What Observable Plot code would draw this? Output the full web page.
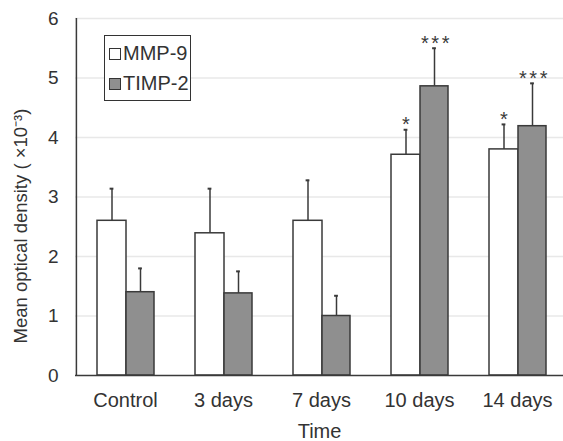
<!DOCTYPE html>
<html>
<head>
<meta charset="utf-8">
<script src="https://cdn.jsdelivr.net/npm/d3@7"></script>
<script src="https://cdn.jsdelivr.net/npm/@observablehq/plot@0.6"></script>
<style>
  html, body { margin: 0; padding: 0; background: #fff; }
  #wrap { position: relative; width: 563px; height: 441px; font-family: "Liberation Sans", Arial, sans-serif; }
  #legend { position: absolute; left: 104px; top: 35px; width: 85px; height: 64px; border: 1.5px solid #333; background: #fff; font-size: 20px; color: #333; }
  #legend .row { position: absolute; left: 4px; display: flex; align-items: center; }
  #legend .sw { width: 10px; height: 10px; border: 1.3px solid #333; margin-right: 2px; }
</style>
</head>
<body>
<div id="wrap">
  <div id="chart"></div>
  <div id="legend">
    <div class="row" style="top:6px"><div class="sw" style="background:#fff"></div><span>MMP-9</span></div>
    <div class="row" style="top:36px"><div class="sw" style="background:#8f8f8f"></div><span>TIMP-2</span></div>
  </div>
</div>
<script>
const categories = ["Control", "3 days", "7 days", "10 days", "14 days"];
const mmp9 = [2.6, 2.39, 2.6, 3.71, 3.8];
const mmp9Err = [0.54, 0.75, 0.68, 0.42, 0.42];
const timp2 = [1.4, 1.38, 1.0, 4.86, 4.19];
const timp2Err = [0.4, 0.37, 0.34, 0.64, 0.72];
const mmp9Sig = ["", "", "", "*", "*"];
const timp2Sig = ["", "", "", "***", "***"];
const yTicks = [0, 1, 2, 3, 4, 5, 6];

const rows = categories.map((c, i) => ({
  cat: c, mmp: mmp9[i], mmpTop: mmp9[i] + mmp9Err[i], mmpSig: mmp9Sig[i],
  timp: timp2[i], timpTop: timp2[i] + timp2Err[i], timpSig: timp2Sig[i]
}));

const ink = "#3a3a3a";
const chart = Plot.plot({
  width: 563, height: 441,
  marginLeft: 75, marginRight: 0, marginTop: 18, marginBottom: 66,
  style: { fontFamily: "'Liberation Sans', Arial, sans-serif", fontSize: "19px", color: "#333", background: "#fff" },
  x: { domain: categories, range: [75, 566], padding: 0 },
  y: { domain: [0, 6] },
  marks: [
    Plot.ruleY(yTicks.slice(1), { stroke: "#e8e8e8", strokeWidth: 1.5 }),
    Plot.barY(rows, { x: "cat", y: "mmp", fill: "#fff", stroke: ink, strokeWidth: 1.5, insetLeft: 21, insetRight: 48 }),
    Plot.barY(rows, { x: "cat", y: "timp", fill: "#8f8f8f", stroke: ink, strokeWidth: 1.5, insetLeft: 50, insetRight: 20 }),
    Plot.ruleX(rows, { x: "cat", y1: "mmp", y2: "mmpTop", dx: -13.5, stroke: ink, strokeWidth: 1.5 }),
    Plot.ruleX(rows, { x: "cat", y1: "timp", y2: "timpTop", dx: 15, stroke: ink, strokeWidth: 1.5 }),
    Plot.tickY(rows, { x: "cat", y: "mmpTop", stroke: ink, strokeWidth: 2, insetLeft: 33.6, insetRight: 60.6 }),
    Plot.tickY(rows, { x: "cat", y: "timpTop", stroke: ink, strokeWidth: 2, insetLeft: 62.1, insetRight: 32.1 }),
    Plot.text(rows, { x: "cat", y: "mmpTop", text: "mmpSig", dx: -13.5, dy: -5, fontSize: 20, fill: ink }),
    Plot.text(rows, { x: "cat", y: "timpTop", text: "timpSig", dx: 17, dy: -5, fontSize: 20, fill: ink, className: "sig3" }),
    Plot.ruleY([0], { stroke: ink, strokeWidth: 1.5 }),
    Plot.ruleX([categories[0]], { x: d => d, y1: 0, y2: 6, dx: -49.1, stroke: ink, strokeWidth: 1.5 }),
    Plot.axisY(yTicks, { tickSize: 0, tickPadding: 17, fontSize: 19, tickFormat: "d", label: "Mean optical density ( ×10⁻³)", labelAnchor: "center", labelArrow: false, labelOffset: 62 }),
    Plot.axisX({ tickSize: 0, tickPadding: 17, fontSize: 20, label: "Time", labelAnchor: "center", labelArrow: false, labelOffset: 62 })
  ]
});
// y-axis label: larger and placed a little lower, as in the reference
chart.querySelectorAll("[aria-label='y-axis label']").forEach(el => {
  el.setAttribute("font-size", 18.5);
  el.querySelectorAll("text").forEach(t => t.setAttribute("font-size", 18.5));
  const tr = el.getAttribute("transform") || "";
  el.setAttribute("transform", "translate(0,29) " + tr);
});
// spread the significance asterisks a little
chart.querySelectorAll("text").forEach(t => {
  if (t.textContent === "***") t.style.letterSpacing = "2.5px";
});
document.getElementById("chart").appendChild(chart);
</script>
</body>
</html>
